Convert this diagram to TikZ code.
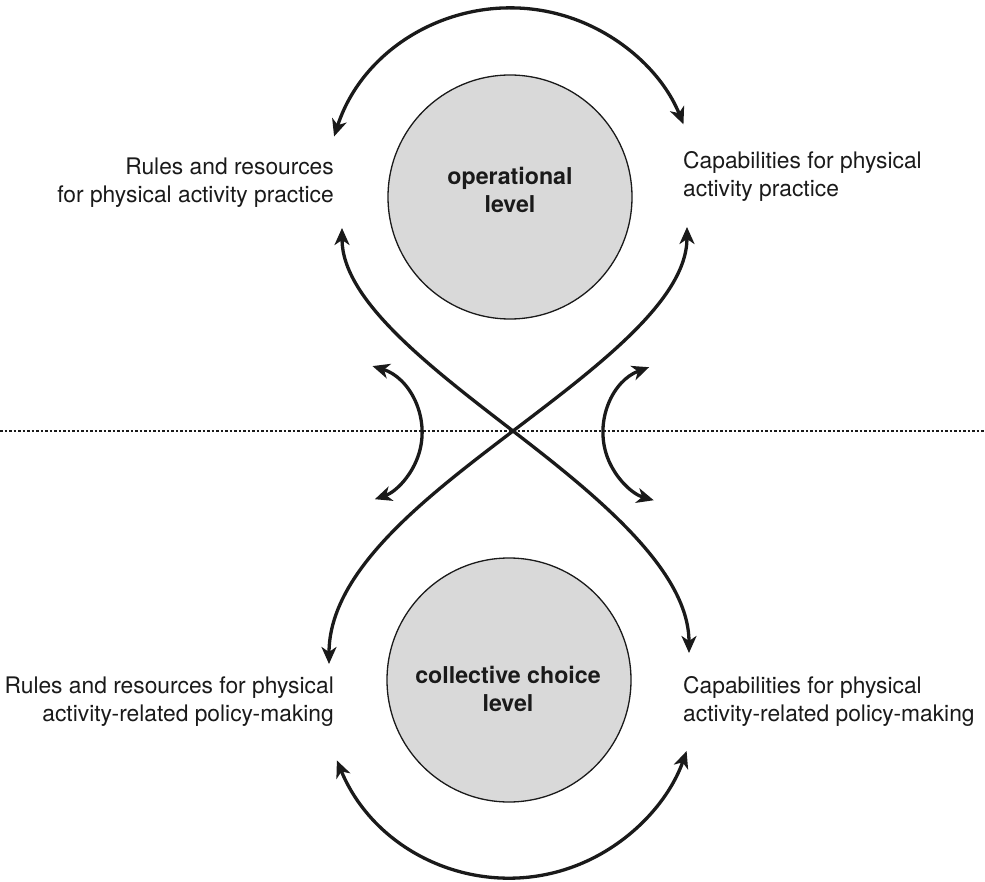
\documentclass[tikz,border=0pt]{standalone}
\usepackage{fontspec}
\setmainfont{TeX Gyre Heros}
\usetikzlibrary{arrows.meta}
\definecolor{ink}{HTML}{1A1A1A}
\definecolor{disc}{HTML}{D9D9D9}
\begin{document}
\begin{tikzpicture}[x=1pt,y=-1pt,
  levelnode/.style={circle, draw=ink, line width=1.3pt, fill=disc,
    minimum size=244pt, inner sep=0pt},
  leveltext/.style={align=center, text=ink, inner sep=0pt,
    font=\fontsize{23.2}{28}\selectfont\bfseries},
  caption/.style={font=\fontsize{22.8}{28}\selectfont, text=ink, inner sep=0pt},
  tip/.tip={Stealth[length=17pt,width=15pt,inset=5pt]},
  flow/.style={draw=ink, line width=3.3pt, tip-tip},
  divider/.style={draw=ink, line width=1.2pt, dash pattern=on 2.5pt off 2pt},
]
\useasboundingbox (0,0) rectangle (985,882);

% level divider
\coordinate (dl) at (0,431);
\coordinate (dr) at (985,431);
\draw[divider] (dl) -- (dr);

% the two levels (anchor base = baseline of the last line)
\node[levelnode] (op) at (510,197) {};
\node[leveltext, anchor=base] (optext) at (510,213) {operational\\level};
\node[levelnode] (cc) at (509,680) {};
\node[leveltext, anchor=base] (cctext) at (508,711) {collective choice\\level};

% captions
\node[caption, align=right, anchor=base east] (rrop) at (334,203)
  {Rules and resources\\for physical activity practice};
\node[caption, align=left, anchor=base west] (capop) at (683,197)
  {Capabilities for physical\\activity practice};
\node[caption, align=right, anchor=base east] (rrcc) at (334,721)
  {Rules and resources for physical\\activity-related policy-making};
\node[caption, align=left, anchor=base west] (capcc) at (683,721)
  {Capabilities for physical\\activity-related policy-making};

% arcs over and under the levels
\coordinate (topL) at (334.1,136.5);
\draw[flow] (topL) arc[start angle=198, end angle=338, radius=186];
\coordinate (botL) at (336.9,760.4);
\draw[flow] (botL) arc[start angle=157, end angle=20, x radius=188, y radius=193];

% crossing links between the levels
\coordinate (xL) at (342,228);
\coordinate (xR) at (687,227);
\coordinate (yL) at (329,664);
\coordinate (yR) at (689,653);
\coordinate (mid) at (513,431);
\draw[flow] (xL) .. controls (342,300) and (430,367) .. (mid)
  .. controls (596,495) and (689,570) .. (yR);
\draw[flow] (xR) .. controls (687,300) and (597,367) .. (mid)
  .. controls (429,495) and (329,570) .. (yL);

% short arcs across the divider
\coordinate (sL) at (372.5,366.1);
\draw[flow] (sL) arc[start angle=-73, end angle=71, radius=70];
\coordinate (sR) at (649.1,367.2);
\draw[flow] (sR) arc[start angle=250, end angle=106, radius=70];
\end{tikzpicture}
\end{document}
